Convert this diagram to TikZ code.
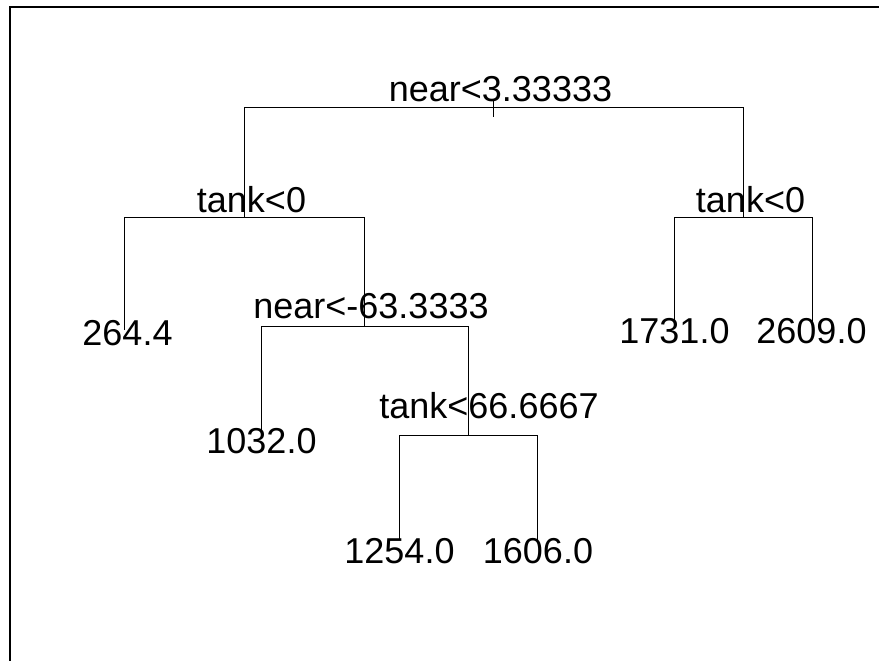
\documentclass[tikz,border=0pt]{standalone}
\usepackage{fontspec}
\setmainfont{Liberation Sans}
\begin{document}
\begin{tikzpicture}[x=1pt,y=-1pt,
  lab/.style={anchor=base,inner sep=0pt,font=\fontsize{36}{40}\selectfont},
  edge/.style={line width=1pt,black},
  frame/.style={line width=2pt,black}]
\useasboundingbox (0,0) rectangle (879,661);
\clip (0,0) rectangle (879,661);
\draw[frame] (10,7) rectangle (895,680);
% tree node positions
\coordinate (root) at (493,108);
\coordinate (rootTop) at (493,100);
\coordinate (rootBot) at (493,117);
\coordinate (L) at (244,217);
\coordinate (R) at (743,217);
\coordinate (LL) at (124,330);
\coordinate (LR) at (364,326);
\coordinate (LRL) at (261,430);
\coordinate (LRR) at (468,435);
\coordinate (LRRL) at (399,540);
\coordinate (LRRR) at (537,540);
\coordinate (RL) at (674,327);
\coordinate (RR) at (812,327);
% connectors
\draw[edge] (rootTop) -- (rootBot);
\draw[edge] (L) -- (L |- root) -- (R |- root) -- (R);
\draw[edge] (LL) -- (LL |- L) -- (LR |- L) -- (LR);
\draw[edge] (RL) -- (RL |- R) -- (RR |- R) -- (RR);
\draw[edge] (LRL) -- (LRL |- LR) -- (LRR |- LR) -- (LRR);
\draw[edge] (LRRL) -- (LRRL |- LRR) -- (LRRR |- LRR) -- (LRRR);
% split labels
\node[lab] (s0) at (500.5,102) {near<3.33333};
\node[lab] (s1) at (251.5,212) {tank<0};
\node[lab] (s2) at (750.5,212) {tank<0};
\node[lab] (s3) at (371,318) {near<-63.3333};
\node[lab] (s4) at (489,418) {tank<66.6667};
% leaf labels
\node[lab] (f1) at (127.5,345) {264.4};
\node[lab] (f2) at (261.5,453) {1032.0};
\node[lab] (f3) at (399.5,563) {1254.0};
\node[lab] (f4) at (538,563) {1606.0};
\node[lab] (f5) at (674.5,343) {1731.0};
\node[lab] (f6) at (811.5,343) {2609.0};
\end{tikzpicture}
\end{document}
